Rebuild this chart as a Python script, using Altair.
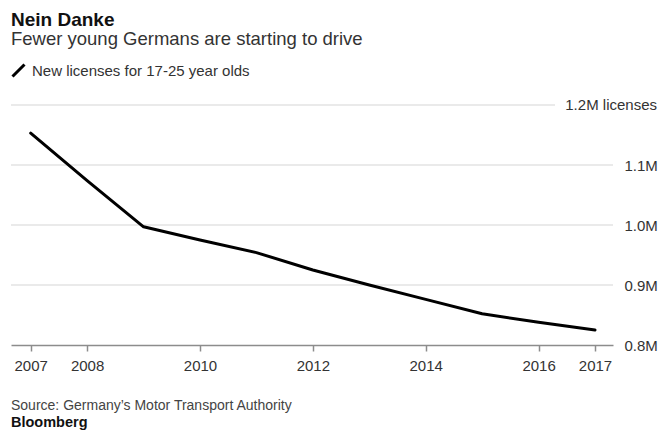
import altair as alt
import pandas as pd

# ---- data ----
years = [2007, 2008, 2009, 2010, 2011, 2012, 2013, 2014, 2015, 2016, 2017]
licenses_m = [1.153, 1.074, 0.997, 0.975, 0.954, 0.925, 0.900, 0.876, 0.852, 0.838, 0.825]
series_name = "New licenses for 17-25 year olds"
x_tick_years = [2007, 2008, 2010, 2012, 2014, 2016, 2017]
y_label_values = [0.8, 0.9, 1.0, 1.1]
y_grid_values = [0.9, 1.0, 1.1]
y_top_value = [1.2]
y_top_label = ["1.2M licenses"]
title_text = ["Nein Danke"]
subtitle_text = ["Fewer young Germans are starting to drive"]
source_text = ["Source: Germany\u2019s Motor Transport Authority"]
brand_text = ["Bloomberg"]

W, H = 602, 240
FONT = "Liberation Sans"
AXIS_GREY = "#8c8c8c"
GRID_GREY = "#e3e3e3"
LABEL_GREY = "#333333"

df = pd.DataFrame({"year": years, "licenses": licenses_m,
                   "series": [series_name] * len(years)})

x_scale = alt.Scale(domain=[2006.651, 2017.319], nice=False, zero=False)
y_scale = alt.Scale(domain=[0.8, 1.2], nice=False, zero=False)

y_axis = alt.Axis(
    orient="right", values=y_label_values,
    labelExpr="format(datum.value, '.1f') + 'M'",
    title=None, ticks=False, domain=False, grid=False,
    labelPadding=11, labelFontSize=15, labelColor=LABEL_GREY, labelFont=FONT)

x_axis = alt.Axis(
    values=x_tick_years, format="d", title=None, grid=False,
    tickSize=6, tickColor=AXIS_GREY, tickWidth=1.5,
    domainColor=AXIS_GREY, domainWidth=1.5,
    labelFontSize=15, labelColor=LABEL_GREY, labelFont=FONT,
    labelPadding=7, labelFlush=False)

grid = alt.Chart(pd.DataFrame({"v": y_grid_values})).mark_rule(
    color=GRID_GREY, strokeWidth=1.5
).encode(
    y=alt.Y("v:Q", scale=y_scale, axis=y_axis),
    x=alt.value(0), x2=alt.value(W),
)

top_grid = alt.Chart(pd.DataFrame({"v": y_top_value})).mark_rule(
    color=GRID_GREY, strokeWidth=1.5
).encode(
    y=alt.Y("v:Q", scale=y_scale, axis=y_axis),
    x=alt.value(0), x2=alt.value(544),
)

top_label = alt.Chart(pd.DataFrame({"v": y_top_value, "t": y_top_label})).mark_text(
    align="right", baseline="middle", font=FONT, fontSize=15, color=LABEL_GREY
).encode(
    y=alt.Y("v:Q", scale=y_scale, axis=y_axis),
    x=alt.value(646),
    text="t:N",
)

line = alt.Chart(df).mark_line(
    strokeWidth=3, strokeJoin="round", strokeCap="round"
).encode(
    x=alt.X("year:Q", scale=x_scale, axis=x_axis),
    y=alt.Y("licenses:Q", scale=y_scale, axis=y_axis),
    color=alt.Color("series:N", scale=alt.Scale(range=["#000000"]), legend=alt.Legend(
        title=None, orient="none", legendX=0, legendY=-42,
        symbolType="M-1,1L1,-1", symbolSize=144, symbolStrokeWidth=3,
        symbolStrokeColor="#000000",
        labelFontSize=15, labelFont=FONT, labelColor=LABEL_GREY,
        labelOffset=6, labelLimit=500, padding=0)),
)


def text_layer(values, y, size, weight="normal", color="#111111"):
    return alt.Chart(pd.DataFrame({"t": values})).mark_text(
        align="left", baseline="alphabetic", font=FONT, fontSize=size,
        fontWeight=weight, color=color
    ).encode(text="t:N", x=alt.value(0), y=alt.value(y))


title = text_layer(title_text, -79, 19, "bold", "#111111")
subtitle = text_layer(subtitle_text, -60, 18.5, "normal", "#333333")
source = text_layer(source_text, 305, 14, "normal", "#444444")
brand = text_layer(brand_text, 322, 14.5, "bold", "#111111")

chart = alt.layer(
    grid, top_grid, top_label, line, title, subtitle, source, brand
).properties(
    width=W, height=H,
    padding={"left": 3, "top": 97, "right": 49, "bottom": 88},
    autosize=alt.AutoSizeParams(type="none"),
    background="white",
).configure_view(stroke=None)

chart.save("out.html", embed_options={"renderer": "svg", "actions": False})
